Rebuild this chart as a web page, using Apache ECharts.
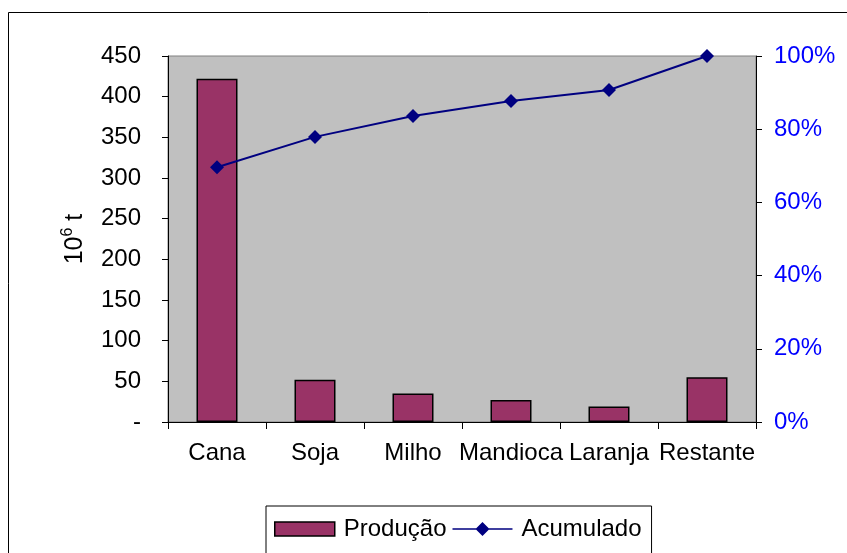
<!DOCTYPE html>
<html>
<head>
<meta charset="utf-8">
<script src="https://cdn.jsdelivr.net/npm/echarts@6/dist/echarts.min.js"></script>
<style>html,body{margin:0;padding:0;background:#fff}#c{width:847px;height:553px}</style>
</head>
<body>
<div id="c"></div>
<script>
var categories = ['Cana', 'Soja', 'Milho', 'Mandioca', 'Laranja', 'Restante'];
var producao = [422, 52, 35, 27, 19, 55];
var acumulado = [69.6, 77.9, 83.6, 87.7, 90.7, 100];
var leftTicks = [0, 50, 100, 150, 200, 250, 300, 350, 400, 450];
var rightTicks = [0, 20, 40, 60, 80, 100];

var chart = echarts.init(document.getElementById('c'), null, {renderer: 'canvas'});
var font = 'Liberation Sans, Arial, sans-serif';
chart.setOption({
  animation: false,
  backgroundColor: '#fff',
  textStyle: {fontFamily: font},
  graphic: [{
    type: 'rect', shape: {x: 8.5, y: 12.5, width: 850, height: 560},
    style: {fill: 'none', stroke: '#000', lineWidth: 1}, silent: true, z: -1
  }],
  grid: {left: 168, top: 56, right: 91, bottom: 131, show: true,
    backgroundColor: '#C0C0C0', borderColor: '#808080', borderWidth: 1},
  legend: {
    left: 266, top: 506, padding: [11, 10, 20, 8], itemGap: 6,
    borderColor: '#000', borderWidth: 1, itemWidth: 60, itemHeight: 14,
    textStyle: {fontSize: 24, color: '#000', fontFamily: font, padding: [0, 0, 0, 4]},
    data: [
      {name: 'Produção', icon: 'rect', itemStyle: {color: '#993366', borderColor: '#000', borderWidth: 1.5}},
      {name: 'Acumulado', icon: 'path://M0,6.2 L60,6.2 L60,7.8 L0,7.8 Z M30,0 L37,7 L30,14 L23,7 Z',
        itemStyle: {color: '#000080', borderWidth: 0}}
    ]
  },
  xAxis: {
    type: 'category', data: categories,
    axisLine: {lineStyle: {color: '#000', width: 1}},
    axisTick: {show: true, length: 7, lineStyle: {color: '#000'}},
    axisLabel: {color: '#000', fontSize: 24, margin: 19, interval: 0, fontFamily: font}
  },
  yAxis: [{
    type: 'value', min: 0, max: 450, interval: 50, position: 'left',
    name: '{a|10}{s|6}{a| t}', nameLocation: 'middle', nameGap: 80, nameRotate: 90,
    nameTextStyle: {rich: {
      a: {fontSize: 25, color: '#000', fontFamily: font, verticalAlign: 'bottom'},
      s: {fontSize: 16, color: '#000', fontFamily: font, verticalAlign: 'top', padding: [0, 0, 12, 0]}
    }},
    axisLine: {show: true, lineStyle: {color: '#000'}},
    axisTick: {show: true, length: 6, lineStyle: {color: '#000'}},
    splitLine: {show: false},
    axisLabel: {color: '#000', fontSize: 24, margin: 27, fontFamily: font,
      formatter: function (v) { return leftTicks.indexOf(v) >= 0 ? (v === 0 ? '-' : String(v)) : ''; }}
  }, {
    type: 'value', min: 0, max: 100, interval: 20, position: 'right',
    axisLine: {show: true, lineStyle: {color: '#000'}},
    axisTick: {show: true, length: 6, lineStyle: {color: '#000'}},
    splitLine: {show: false},
    axisLabel: {color: '#0000FF', fontSize: 24, margin: 18, fontFamily: font,
      formatter: function (v) { return rightTicks.indexOf(v) >= 0 ? v + '%' : ''; }}
  }],
  series: [{
    name: 'Produção', type: 'bar', data: producao, yAxisIndex: 0, barWidth: 41,
    itemStyle: {color: '#993366', borderColor: '#000', borderWidth: 1.5}
  }, {
    name: 'Acumulado', type: 'line', data: acumulado, yAxisIndex: 1,
    symbol: 'diamond', symbolSize: 14,
    lineStyle: {color: '#000080', width: 2},
    itemStyle: {color: '#000080'}
  }]
});
</script>
</body>
</html>
